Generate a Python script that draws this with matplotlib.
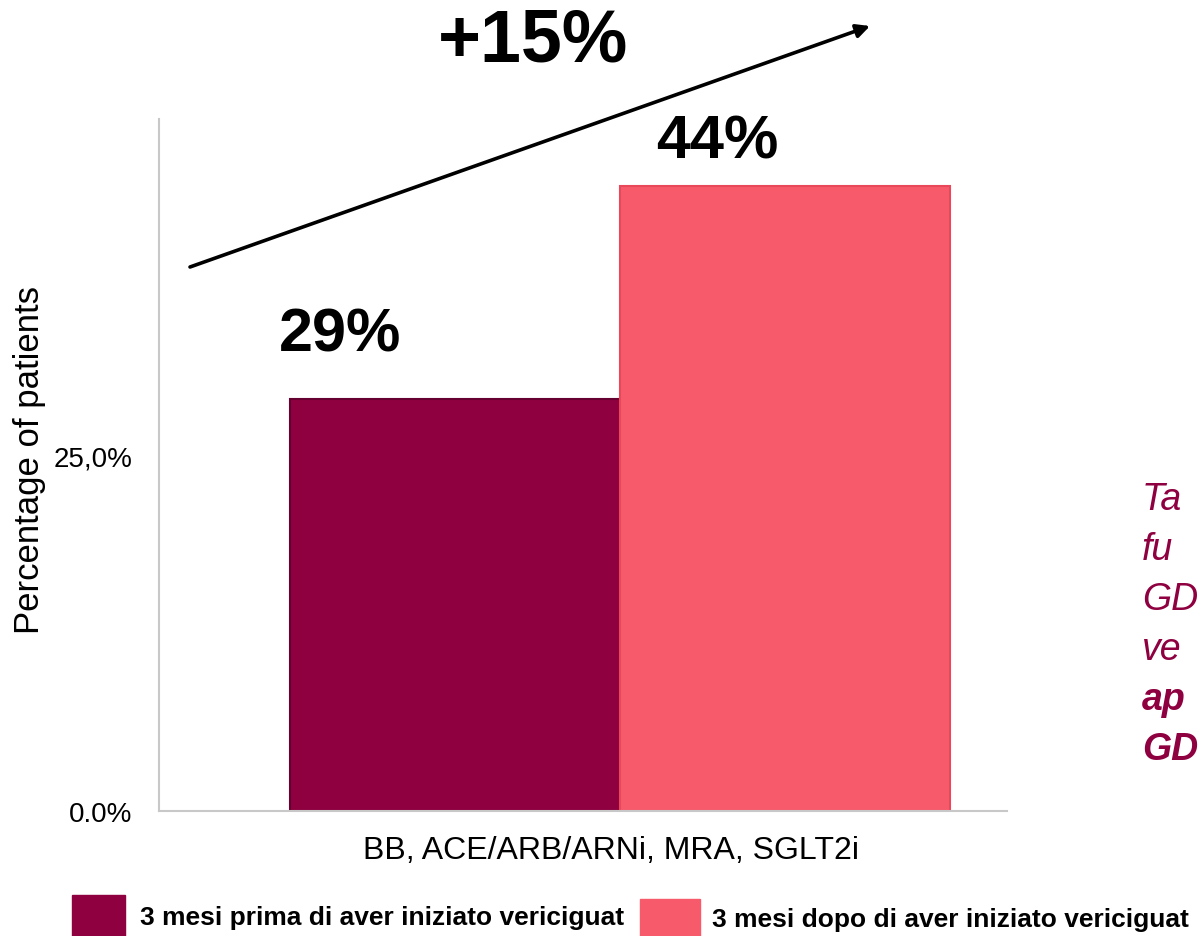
import matplotlib
matplotlib.use("Agg")
import matplotlib.pyplot as plt

# data
group = "BB, ACE/ARB/ARNi, MRA, SGLT2i"
series = ["3 mesi prima di aver iniziato vericiguat",
          "3 mesi dopo di aver iniziato vericiguat"]
values = [29, 44]
labels = ["29%", "44%"]
colors = ["#8e0040", "#f75a6a"]
edges = ["#650030", "#e8485a"]
yticks = [0, 25]
ytick_labels = ["0.0%", "25,0%"]
delta = "+15%"
# commentary box on the right is cut off by the slide edge
side_lines = ["Ta", "fu", "GD", "ve", "ap", "GD"]
side_bold = [False, False, False, False, True, True]

plt.rcParams["font.family"] = ["Liberation Sans", "DejaVu Sans"]

W, H = 1200, 937
fig = plt.figure(figsize=(W / 100, H / 100), dpi=100)
ax = fig.add_axes([159 / W, 1 - 812 / H, (1007 - 159) / W, (812 - 120) / H])

offsets = [-0.5, 0.5]
for off, v, c, e in zip(offsets, values, colors, edges):
    ax.bar(off, v, width=1.0, color=c, edgecolor=e, linewidth=1.5, zorder=2)

ax.set_xlim(-1.397, 1.173)
ax.set_ylim(0, 48.7)
ax.set_yticks(yticks)
ax.set_yticklabels(ytick_labels, fontsize=20)
ax.set_xticks([])
ax.tick_params(axis="y", length=0, pad=19)
for s in ("top", "right"):
    ax.spines[s].set_visible(False)
for s in ("left", "bottom"):
    ax.spines[s].set_color("#c8c8c8")
    ax.spines[s].set_linewidth(1.5)

ax.set_ylabel("Percentage of patients", fontsize=25)
ax.yaxis.set_label_coords(-0.133, 0.509)
ax.set_xlabel(group, fontsize=23)
ax.xaxis.set_label_coords(0.533, -0.035)

# value labels above bars
ax.text(offsets[0] - 0.348, values[0] + 4.5, labels[0], ha="center", va="center",
        fontsize=44, fontweight="bold")
ax.text(offsets[1] - 0.206, values[1] + 3.1, labels[1], ha="center", va="center",
        fontsize=44, fontweight="bold")

# trend arrow and increase label
ax.annotate("", xy=(870 / W, 1 - 27 / H), xytext=(190 / W, 1 - 268 / H),
            xycoords="figure fraction", textcoords="figure fraction",
            arrowprops=dict(arrowstyle="-|>", color="black", lw=2.6,
                            mutation_scale=20, shrinkA=0, shrinkB=0))
fig.text(533 / W, 1 - 42 / H, delta, ha="center", va="center",
         fontsize=53, fontweight="bold")

for i, (t, b) in enumerate(zip(side_lines, side_bold)):
    fig.text(1142 / W, 1 - (500 + i * 50) / H, t, ha="left", va="center",
             fontsize=27, style="italic", fontweight="bold" if b else "normal",
             color="#8e0040")

# legend drawn as patches + text
fig.patches.append(plt.Rectangle((72 / W, 0), 53 / W, 41 / H,
                                 transform=fig.transFigure, color=colors[0]))
fig.patches.append(plt.Rectangle((640 / W, 0), 60 / W, 37 / H,
                                 transform=fig.transFigure, color=colors[1]))
fig.text(140 / W, 1 - 918 / H, series[0], ha="left", va="center",
         fontsize=19, fontweight="bold")
fig.text(712 / W, 1 - 920 / H, series[1], ha="left", va="center",
         fontsize=19, fontweight="bold")

fig.savefig("out.png", dpi=100)
